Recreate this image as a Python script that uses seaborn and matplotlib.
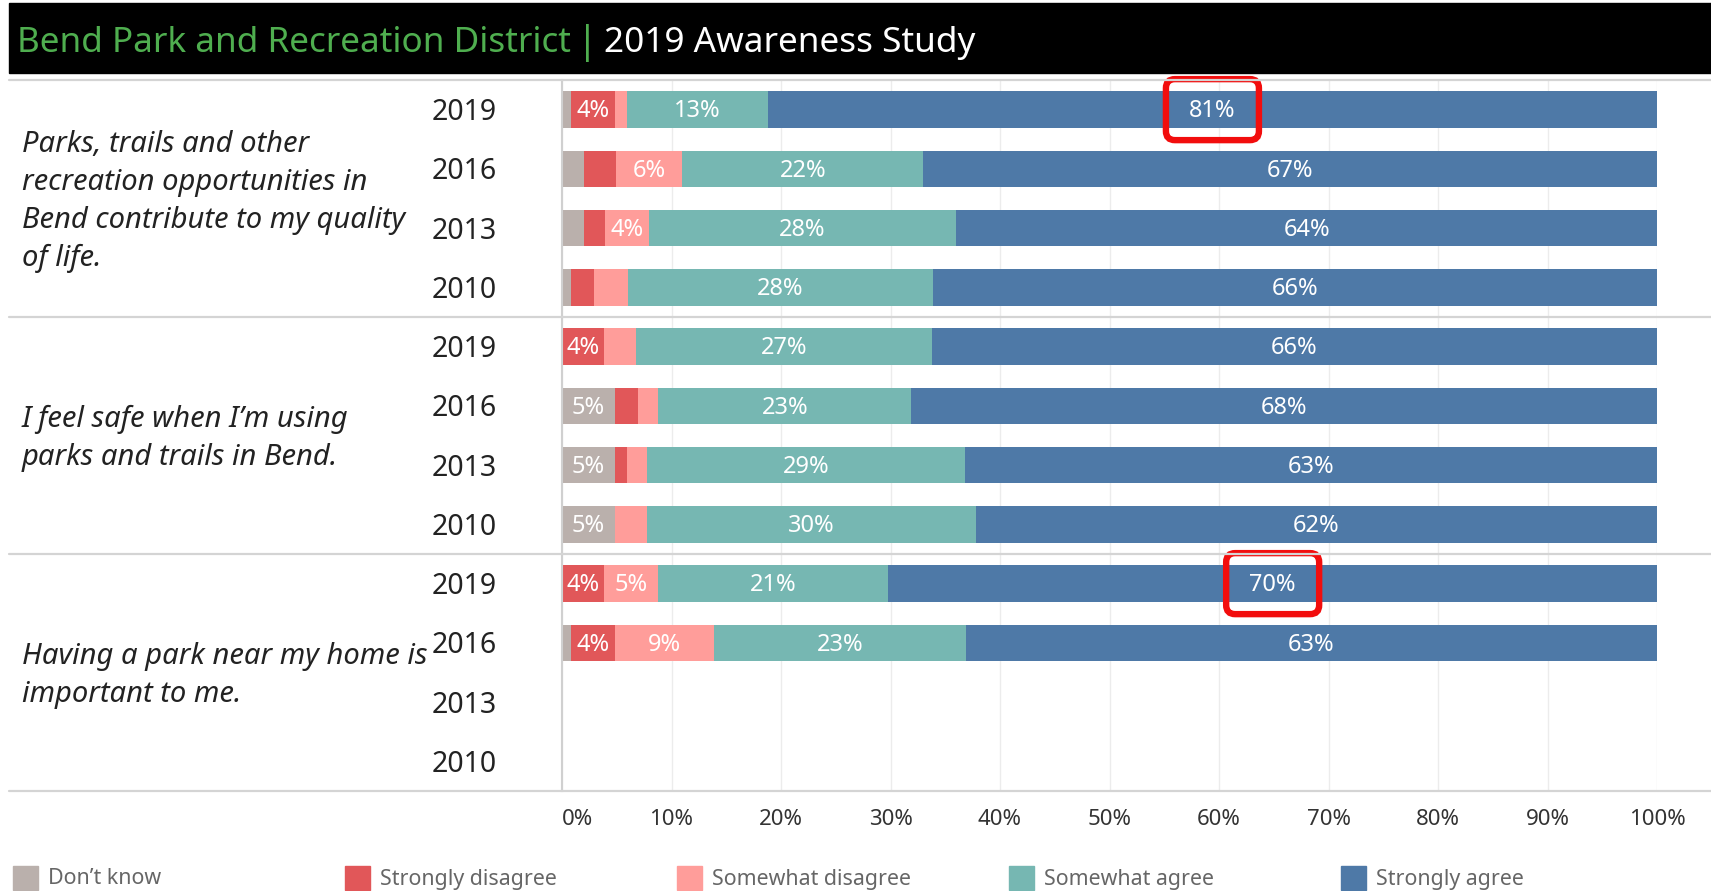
import numpy as np
import pandas as pd
import matplotlib
matplotlib.use("Agg")
import matplotlib.pyplot as plt
import seaborn as sns
from matplotlib.patches import Rectangle, FancyBboxPatch
from matplotlib.lines import Line2D
from matplotlib.transforms import blended_transform_factory

# =========================
# DATA
# =========================
questions = [
    "Parks, trails and other\nrecreation opportunities in\nBend contribute to my quality\nof life.",
    "I feel safe when I\u2019m using\nparks and trails in Bend.",
    "Having a park near my home is\nimportant to me.",
]
years = ["2019", "2016", "2013", "2010"]
responses = ["Don\u2019t know", "Strongly disagree", "Somewhat disagree",
             "Somewhat agree", "Strongly agree"]
colors = ["#bab0ac", "#e15759", "#ff9d9a", "#76b7b2", "#4e79a7"]

nan = np.nan
# one value per row: question 1 (2019..2010), question 2, question 3
dont_know         = [0.8, 2.0, 2.0, 0.8,  0.0, 4.8, 4.8, 4.8,  0.0, 0.8, nan, nan]
strongly_disagree = [4.0, 2.9, 1.9, 2.1,  3.8, 2.1, 1.1, 0.0,  3.8, 4.0, nan, nan]
somewhat_disagree = [1.1, 6.1, 4.0, 3.1,  3.0, 1.9, 1.9, 3.0,  5.0, 9.1, nan, nan]
somewhat_agree    = [12.9, 22.0, 28.1, 27.9,  27.0, 23.1, 29.0, 30.0,  21.0, 23.0, nan, nan]
strongly_agree    = [81.2, 67.0, 64.0, 66.1,  66.2, 68.1, 63.2, 62.2,  70.2, 63.1, nan, nan]

# rows with the red highlight box around the "Strongly agree" label
highlight_rows = [0, 8]

# =========================
# TABLE
# =========================
row_keys = [f"q{q}-{y}" for q in range(len(questions)) for y in years]
series = [dont_know, strongly_disagree, somewhat_disagree, somewhat_agree, strongly_agree]
wide = pd.DataFrame(dict(zip(responses, series)), index=row_keys)
cum = wide.cumsum(axis=1)

W, H = 1711, 891
def fx(px): return px / W
def fy(py): return 1 - py / H

sns.set_style("white")
plt.rcParams["font.family"] = ["Noto Sans", "DejaVu Sans"]

fig = plt.figure(figsize=(W / 100, H / 100), dpi=100)
ax_left, ax_right, ax_top, ax_bot = 562, 1657, 80, 791
ax = fig.add_axes([fx(ax_left), fy(ax_bot), (ax_right - ax_left) / W, (ax_bot - ax_top) / H])

# stacked bars: draw cumulative totals from the largest down
for resp, col in reversed(list(zip(responses, colors))):
    sub = cum[resp].dropna().rename("cum").reset_index().rename(columns={"index": "row"})
    sns.barplot(data=sub, x="cum", y="row", order=row_keys, orient="h", color=col,
                saturation=1, width=0.62, errorbar=None, linewidth=0, ax=ax)

ax.set_xlim(0, 100)
ax.set_ylim(len(row_keys) - 0.5, -0.5)
ax.set_xlabel("")
ax.set_ylabel("")
ax.set_yticks([])
ticks = list(range(0, 101, 10))
ax.set_xticks(ticks)
ax.set_xticklabels([f"{t}%" for t in ticks], fontsize=16, color="#333333")
ax.get_xticklabels()[0].set_ha("left")
ax.tick_params(axis="x", length=0, pad=13)
ax.grid(axis="x", color="#ececec", lw=1)
ax.grid(axis="y", visible=False)
ax.set_axisbelow(True)
for s in ["top", "right", "bottom"]:
    ax.spines[s].set_visible(False)
ax.spines["left"].set_color("#d0d0d0")
ax.spines["left"].set_linewidth(1.5)

# segment labels
for i, key in enumerate(row_keys):
    left = 0
    for resp in responses:
        v = wide.loc[key, resp]
        if np.isnan(v):
            continue
        if v >= 3.5:
            ax.text(left + v / 2, i + 0.03, f"{round(v)}%", ha="center", va="center",
                    color="white", fontsize=17)
        left += v

# year labels and questions
tr = blended_transform_factory(fig.transFigure, ax.transData)
for i, key in enumerate(row_keys):
    ax.text(fx(432), i + 0.05, key.split("-")[1], transform=tr, ha="left", va="center",
            fontsize=20.5, color="#222222")
for q, text in enumerate(questions):
    ax.text(fx(22), q * 4 + 1.55, text, transform=tr, ha="left", va="center",
            fontsize=21, style="italic", color="#222222", linespacing=1.4)

# separator lines across the whole width
for py in [80, 317, 554, 791]:
    fig.add_artist(Line2D([fx(9), 1], [fy(py), fy(py)], transform=fig.transFigure,
                          color="#d4d4d4", lw=1.6))

# header
fig.add_artist(Rectangle((fx(9), fy(73)), 1 - fx(9), (73 - 3) / H,
                         transform=fig.transFigure, color="black", zorder=0))
renderer = fig.canvas.get_renderer()
ty = fy(43)
t1 = fig.text(fx(17), ty, "Bend Park and Recreation District", color="#4fae4f",
              fontsize=25.3, va="center", ha="left")
x1 = t1.get_window_extent(renderer).x1
t2 = fig.text(x1 / W + fx(6), ty, "|", color="#4fae4f", fontsize=27, va="center", ha="left")
x2 = t2.get_window_extent(renderer).x1
fig.text(x2 / W + fx(6), ty, "2019 Awareness Study", color="white",
         fontsize=25.3, va="center", ha="left")

# red highlight boxes
for r in highlight_rows:
    key = row_keys[r]
    start = wide.loc[key, responses[:-1]].sum()
    cx = start + wide.loc[key, responses[-1]] / 2
    px, py = ax.transData.transform((cx, r))
    bw, bh = 93, 61
    fig.add_artist(FancyBboxPatch((px - bw / 2, py - bh / 2), bw, bh,
                                  boxstyle="round,pad=0,rounding_size=9",
                                  transform=None, fill=False, edgecolor="#f20d0d", lw=4.6))

# legend
for k, (resp, col) in enumerate(zip(responses, colors)):
    lx = 13 + k * 332
    fig.add_artist(Rectangle((fx(lx), fy(890)), 25 / W, 24 / H, transform=fig.transFigure,
                             color=col))
    fig.text(fx(lx + 35), fy(879), resp, color="#666666", fontsize=15.4, va="center", ha="left")

plt.savefig("out.png", dpi=100)
